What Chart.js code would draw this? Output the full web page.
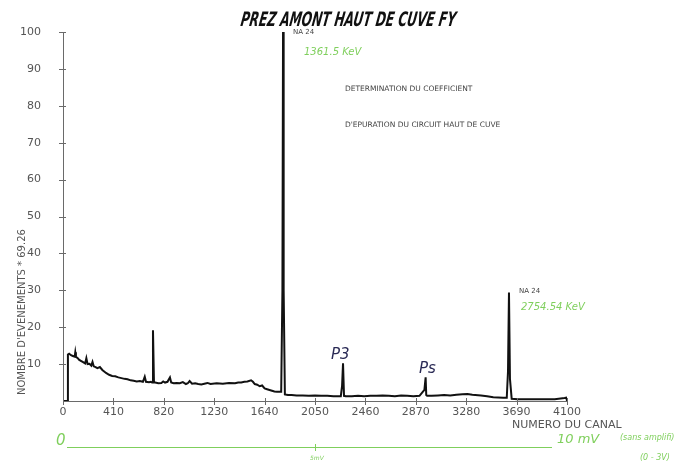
<!DOCTYPE html>
<html lang="fr">
<head>
  <title>PREZ AMONT HAUT DE CUVE FY</title>
  <meta charset="UTF-8">
  <script src="https://cdn.jsdelivr.net/npm/chart.js@4.4.1/dist/chart.umd.min.js"></script>
  <style>
    html, body { margin: 0; padding: 0; background: #fff; }
    #wrap { width: 695px; height: 469px; }
  </style>
</head>
<body>
  <div id="wrap"><canvas id="myChart" width="695" height="469"></canvas></div>
  <script>
    // spectrum (channel number, counts / 69.26)
    const channels = [0, 35, 40, 50, 65, 80, 95, 100, 105, 120, 130, 145, 160, 180, 190, 200, 215, 230, 240, 250, 265,
      280, 300, 320, 335, 350, 375, 400, 425, 450, 475, 500, 525, 550, 575, 600, 625, 650, 665, 675, 700, 715,
      725, 732, 740, 750, 775, 800, 815, 830, 850, 870, 880, 900, 925, 950, 975, 1000, 1015, 1030, 1050, 1075,
      1100, 1125, 1150, 1175, 1200, 1250, 1300, 1350, 1400, 1425, 1450, 1475, 1500, 1530, 1545, 1560, 1580,
      1600, 1620, 1640, 1660, 1680, 1700, 1720, 1740, 1760, 1775, 1785, 1790, 1795, 1805, 1830, 1860, 1900,
      1950, 2000, 2050, 2100, 2150, 2200, 2260, 2270, 2278, 2286, 2300, 2350, 2400, 2450, 2500, 2550, 2600,
      2650, 2700, 2750, 2800, 2850, 2900, 2940, 2950, 2955, 2962, 3000, 3050, 3100, 3150, 3200, 3250, 3290,
      3330, 3400, 3450, 3500, 3580, 3610, 3620, 3628, 3636, 3650, 3700, 3800, 3900, 4000, 4080, 4095, 4100];
    const counts = [0, 0, 12.6, 12.8, 12.4, 12.2, 12.0, 13.2, 12.0, 11.6, 11.2, 10.9, 10.6, 10.2, 11.6, 10.0, 10.1, 9.6,
      10.6, 9.4, 9.2, 8.9, 9.2, 8.4, 8.0, 7.6, 7.1, 6.8, 6.7, 6.4, 6.2, 6.0, 5.9, 5.6, 5.5, 5.3, 5.4, 5.2, 6.6,
      5.2, 5.1, 5.2, 5.0, 19.2, 5.0, 5.0, 4.8, 4.9, 5.3, 5.0, 5.2, 6.4, 5.0, 4.8, 4.9, 4.8, 5.1, 4.6, 4.8,
      5.4, 4.7, 4.8, 4.6, 4.5, 4.7, 4.9, 4.6, 4.8, 4.7, 4.9, 4.8, 5.0, 5.0, 5.2, 5.3, 5.6, 5.2, 4.6, 4.4,
      4.0, 4.2, 3.4, 3.2, 3.0, 2.8, 2.6, 2.5, 2.5, 2.5, 30, 100, 30, 1.8, 1.6, 1.6, 1.5, 1.5, 1.4, 1.5, 1.4,
      1.4, 1.3, 1.3, 4, 10.2, 1.4, 1.3, 1.3, 1.4, 1.3, 1.4, 1.4, 1.5, 1.4, 1.3, 1.5, 1.4, 1.3, 1.4, 3, 6.4, 1.6,
      1.4, 1.4, 1.5, 1.6, 1.5, 1.7, 1.8, 1.9, 1.7, 1.5, 1.3, 1.0, 0.9, 0.9, 8, 29.4, 6, 0.6, 0.5, 0.5, 0.5,
      0.5, 0.8, 0.9, 0];
    const xTicks = [0, 410, 820, 1230, 1640, 2050, 2460, 2870, 3280, 3690, 4100];
    const yTicks = [10, 20, 30, 40, 50, 60, 70, 80, 90, 100];

    const points = channels.map((c, i) => ({ x: c, y: counts[i] }));
    const grey = '#6a6a6a';
    const green = '#7fcf5c';

    // crossing tick marks, like the plotter drew them
    const crossTicks = {
      id: 'crossTicks',
      afterDraw(chart) {
        const ctx = chart.ctx, xs = chart.scales.x, ys = chart.scales.y;
        ctx.save();
        ctx.strokeStyle = grey;
        ctx.lineWidth = 1;
        ctx.beginPath();
        yTicks.forEach(v => {
          const py = Math.round(ys.getPixelForValue(v)) + 0.5;
          ctx.moveTo(xs.left - 4, py); ctx.lineTo(xs.left + 3, py);
        });
        xTicks.forEach(v => {
          const px = Math.round(xs.getPixelForValue(v)) + 0.5;
          ctx.moveTo(px, ys.bottom - 3); ctx.lineTo(px, ys.bottom + 4);
        });
        ctx.stroke();
        ctx.restore();
      }
    };

    // texts of the plot sheet and the handwritten notes
    const sheetText = {
      id: 'sheetText',
      afterDraw(chart) {
        const ctx = chart.ctx, xs = chart.scales.x;
        ctx.save();
        // title
        ctx.fillStyle = '#111';
        ctx.font = 'italic bold 20px "DejaVu Sans Condensed", "DejaVu Sans"';
        ctx.textBaseline = 'alphabetic';
        const title = 'PREZ AMONT HAUT DE CUVE FY';
        const w = ctx.measureText(title).width;
        ctx.translate(240, 26);
        ctx.transform(215 / w, 0, -0.15, 1, 0, 0);
        ctx.fillText(title, 0, 0);
        ctx.restore();

        ctx.save();
        ctx.fillStyle = '#444';
        ctx.font = '7px "DejaVu Sans"';
        ctx.textBaseline = 'middle';
        ctx.fillText('NA 24', xs.getPixelForValue(1790) + 10, 32);
        ctx.fillText('NA 24', xs.getPixelForValue(3628) + 10, 291);
        ctx.font = '7.5px "DejaVu Sans"';
        ctx.fillText('DETERMINATION DU COEFFICIENT', 345, 89);
        ctx.fillText("D'EPURATION DU CIRCUIT HAUT DE CUVE", 345, 125);

        // axis titles
        ctx.fillStyle = '#555';
        ctx.font = '11px "DejaVu Sans"';
        ctx.fillText('NUMERO DU CANAL', 512, 425);
        ctx.save();
        ctx.translate(22, 395);
        ctx.rotate(-Math.PI / 2);
        ctx.font = '10px "DejaVu Sans"';
        ctx.fillText("NOMBRE D'EVENEMENTS * 69.26", 0, 0);
        ctx.restore();

        // handwritten notes
        ctx.fillStyle = green;
        ctx.font = 'italic 10px "DejaVu Sans"';
        ctx.fillText('1361.5 KeV', 304, 52);
        ctx.fillText('2754.54 KeV', 521, 307);
        ctx.fillStyle = '#2a2a55';
        ctx.font = 'italic 15px "DejaVu Sans"';
        ctx.fillText('P3', 331, 355);
        ctx.fillText('Ps', 419, 369);

        ctx.fillStyle = green;
        ctx.font = 'italic 15px "DejaVu Sans"';
        ctx.fillText('0', 56, 441);
        ctx.font = 'italic 13px "DejaVu Sans"';
        ctx.fillText('10 mV', 557, 440);
        ctx.font = 'italic 8px "DejaVu Sans"';
        ctx.fillText('(sans amplifi)', 620, 438);
        ctx.fillText('(0 - 3V)', 640, 458);
        ctx.font = 'italic 6px "DejaVu Sans"';
        ctx.fillText('5mV', 310, 458);
        ctx.strokeStyle = green;
        ctx.lineWidth = 1;
        ctx.beginPath();
        ctx.moveTo(67, 447.5); ctx.lineTo(552, 447.5);
        ctx.moveTo(315.5, 444); ctx.lineTo(315.5, 451);
        ctx.stroke();
        ctx.restore();
      }
    };

    new Chart('myChart', {
      type: 'line',
      data: {
        datasets: [{
          data: points,
          borderColor: '#111',
          borderWidth: 2,
          pointRadius: 0,
          tension: 0,
          fill: false
        }]
      },
      options: {
        responsive: false,
        animation: false,
        layout: { padding: { left: 0, right: 128, top: 32, bottom: 0 } },
        plugins: { legend: { display: false }, tooltip: { enabled: false } },
        scales: {
          x: {
            type: 'linear',
            min: 0,
            max: 4100,
            afterBuildTicks: s => { s.ticks = xTicks.map(v => ({ value: v })); },
            afterFit: s => { s.height = 68; },
            grid: { display: false, drawTicks: false },
            border: { color: grey, width: 1 },
            ticks: {
              color: '#555', font: { family: 'DejaVu Sans', size: 11 }, padding: 5, maxRotation: 0,
              callback: v => String(v)
            }
          },
          y: {
            min: 0,
            max: 100,
            afterBuildTicks: s => { s.ticks = yTicks.map(v => ({ value: v })); },
            afterFit: s => { s.width = 63; },
            grid: { display: false, drawTicks: false },
            border: { color: grey, width: 1 },
            ticks: { color: '#555', font: { family: 'DejaVu Sans', size: 11 }, padding: 22 }
          }
        }
      },
      plugins: [crossTicks, sheetText]
    });
  </script>
</body>
</html>
